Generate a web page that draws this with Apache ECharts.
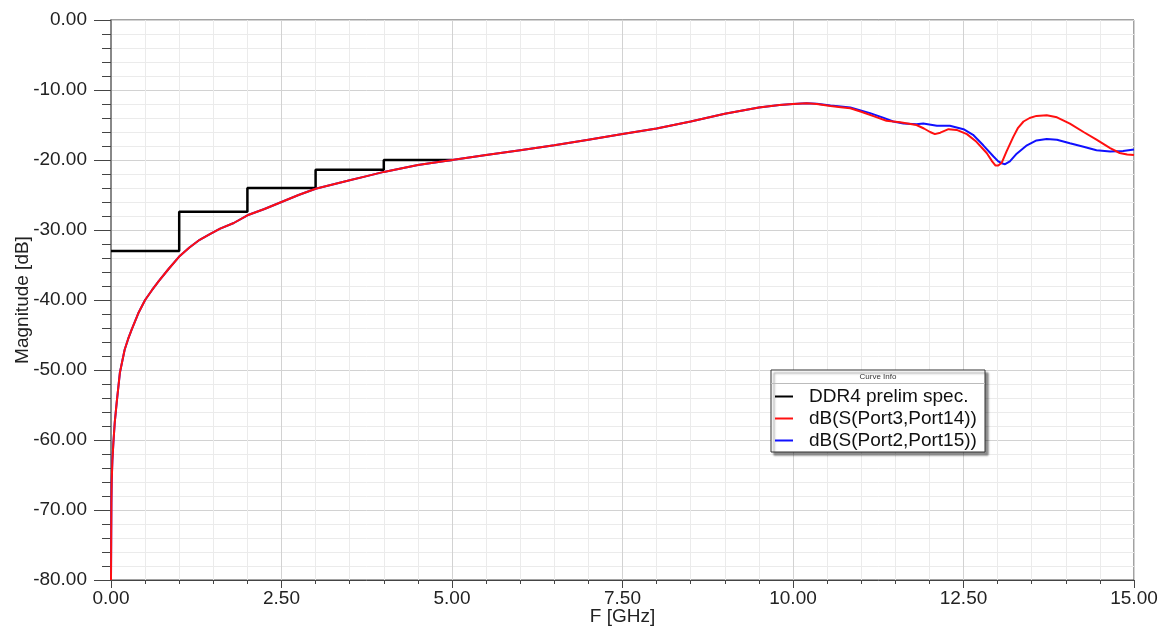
<!DOCTYPE html>
<html>
<head>
<meta charset="utf-8">
<script src="https://cdn.jsdelivr.net/npm/echarts@6/dist/echarts.min.js"></script>
<style>html,body{margin:0;padding:0;background:#fff}#c{width:1160px;height:628px}</style>
</head>
<body>
<div id="c"></div>
<script>
// DDR4 spec mask (GHz, dB)
var specFreq = [0, 1, 1, 2, 2, 3, 3, 4, 4, 5];
var specVal  = [-33, -33, -27.4, -27.4, -24, -24, -21.4, -21.4, -20, -20];

// dB(S(Port3,Port14))
var redFreq = [0, 0.003, 0.006, 0.01, 0.02, 0.035, 0.055, 0.083, 0.13, 0.2, 0.25, 0.3, 0.4, 0.5, 0.6, 0.7, 0.85, 1.0, 1.15, 1.3, 1.45, 1.6, 1.8, 2.0, 2.25, 2.5, 2.75, 3.0, 3.25, 3.5, 3.75, 4.0, 4.25, 4.5, 4.75, 5.0, 5.5, 6.0, 6.5, 7.0, 7.5, 8.0, 8.5, 9.0, 9.5, 9.8, 10.0, 10.2, 10.35, 10.55, 10.7, 10.84, 11.0, 11.2, 11.37, 11.57, 11.81, 11.92, 12.01, 12.08, 12.16, 12.28, 12.4, 12.55, 12.69, 12.84, 12.92, 12.97, 13.01, 13.06, 13.13, 13.23, 13.3, 13.38, 13.47, 13.57, 13.72, 13.87, 14.06, 14.26, 14.45, 14.65, 14.79, 14.9, 15.0];
var redVal  = [-80, -74, -69, -66, -63, -60.4, -57.5, -54.7, -50.4, -47.1, -45.6, -44.3, -41.9, -40, -38.6, -37.3, -35.5, -33.8, -32.5, -31.4, -30.6, -29.8, -29.0, -27.9, -27.0, -26.0, -25.0, -24.1, -23.5, -22.9, -22.3, -21.7, -21.2, -20.7, -20.35, -20.0, -19.3, -18.6, -17.9, -17.1, -16.3, -15.5, -14.5, -13.4, -12.5, -12.15, -12.0, -11.9, -12.0, -12.3, -12.45, -12.6, -13.1, -13.8, -14.4, -14.6, -15.0, -15.5, -16.0, -16.3, -16.1, -15.6, -15.7, -16.3, -17.4, -19.0, -20.2, -20.8, -20.8, -20.4, -18.8, -16.7, -15.4, -14.5, -14.0, -13.7, -13.6, -13.9, -14.8, -16.0, -17.1, -18.3, -19.0, -19.2, -19.3];

// dB(S(Port2,Port15))
var blueFreq = [0, 0.003, 0.006, 0.01, 0.02, 0.035, 0.055, 0.083, 0.13, 0.2, 0.25, 0.3, 0.4, 0.5, 0.6, 0.7, 0.85, 1.0, 1.15, 1.3, 1.45, 1.6, 1.8, 2.0, 2.25, 2.5, 2.75, 3.0, 3.25, 3.5, 3.75, 4.0, 4.25, 4.5, 4.75, 5.0, 5.5, 6.0, 6.5, 7.0, 7.5, 8.0, 8.5, 9.0, 9.5, 9.8, 10.0, 10.2, 10.35, 10.55, 10.7, 10.84, 11.13, 11.32, 11.47, 11.62, 11.81, 11.91, 12.11, 12.3, 12.5, 12.64, 12.79, 12.94, 13.01, 13.07, 13.11, 13.18, 13.28, 13.43, 13.57, 13.72, 13.87, 14.06, 14.26, 14.45, 14.65, 14.84, 15.0];
var blueVal  = [-80, -74, -69, -66, -63, -60.4, -57.5, -54.7, -50.4, -47.1, -45.6, -44.3, -41.9, -40, -38.6, -37.3, -35.5, -33.8, -32.5, -31.4, -30.6, -29.8, -29.0, -27.9, -27.0, -26.0, -25.0, -24.1, -23.5, -22.9, -22.3, -21.7, -21.2, -20.7, -20.35, -20.0, -19.3, -18.6, -17.9, -17.1, -16.3, -15.5, -14.5, -13.4, -12.5, -12.15, -12.0, -11.9, -11.95, -12.2, -12.35, -12.5, -13.3, -13.95, -14.5, -14.8, -14.9, -14.8, -15.1, -15.1, -15.6, -16.4, -17.9, -19.5, -20.2, -20.5, -20.6, -20.2, -19.1, -17.9, -17.2, -17.0, -17.1, -17.6, -18.1, -18.6, -18.8, -18.7, -18.5];

var names = ['DDR4 prelim spec.', 'dB(S(Port3,Port14))', 'dB(S(Port2,Port15))'];

function zip(a, b) { return a.map(function (v, i) { return [v, b[i]]; }); }

var chart = echarts.init(document.getElementById('c'));
var FONT = '"Liberation Sans", Arial, sans-serif';
chart.setOption({
  animation: false,
  textStyle: { fontFamily: FONT },
  grid: { left: 111, top: 20, right: 26, bottom: 48, containLabel: false, outerBoundsMode: 'none',
          show: true, borderColor: '#444', borderWidth: 1, backgroundColor: 'transparent' },
  xAxis: {
    type: 'value', min: 0, max: 15, interval: 2.5,
    name: 'F [GHz]', nameLocation: 'middle', nameGap: 27, nameMoveOverlap: false,
    nameTextStyle: { fontSize: 19, color: '#222', fontFamily: FONT },
    axisLine: { show: true, onZero: false, lineStyle: { color: '#444', width: 1 } },
    axisTick: { show: true, length: 8, lineStyle: { color: '#444' } },
    minorTick: { show: true, splitNumber: 5, length: 4, lineStyle: { color: '#444' } },
    axisLabel: { fontSize: 19, color: '#222', margin: 9, fontFamily: FONT, formatter: function (v) { return v.toFixed(2); } },
    splitLine: { show: true, lineStyle: { color: '#d2d2d2', width: 1 } },
    minorSplitLine: { show: true, lineStyle: { color: '#ebebeb', width: 1 } }
  },
  yAxis: {
    type: 'value', min: -80, max: 0, interval: 10,
    name: 'Magnitude [dB]', nameLocation: 'middle', nameGap: 79, nameMoveOverlap: false,
    nameTextStyle: { fontSize: 19, color: '#222', fontFamily: FONT },
    axisLine: { show: true, onZero: false, lineStyle: { color: '#888', width: 2 } },
    axisTick: { show: true, length: 17, lineStyle: { color: '#444' } },
    minorTick: { show: true, splitNumber: 5, length: 9, lineStyle: { color: '#444' } },
    axisLabel: { fontSize: 19, color: '#222', margin: 24, fontFamily: FONT, formatter: function (v) { return v.toFixed(2); } },
    splitLine: { show: true, lineStyle: { color: '#d2d2d2', width: 1 } },
    minorSplitLine: { show: true, lineStyle: { color: '#ebebeb', width: 1 } }
  },
  legend: {
    data: names, z: 60,
    orient: 'vertical', left: 775, top: 387, padding: 0,
    icon: 'rect', itemWidth: 18, itemHeight: 2, itemGap: 3,
    textStyle: { fontSize: 19, color: '#111', fontFamily: FONT, padding: [0, 0, 0, 11] },
    selectedMode: false
  },
  graphic: [
    { type: 'rect', z: 50, shape: { x: 771, y: 370, width: 214, height: 82 },
      style: { fill: '#fff', stroke: '#333', lineWidth: 1, shadowBlur: 2, shadowOffsetX: 3, shadowOffsetY: 3, shadowColor: 'rgba(0,0,0,0.45)' } },
    { type: 'line', z: 51, shape: { x1: 771, y1: 383.5, x2: 985, y2: 383.5 }, style: { stroke: '#bbb', lineWidth: 1 } },
    { type: 'text', z: 51, style: { x: 878, y: 377, text: 'Curve Info', fontSize: 8, fontFamily: FONT, fill: '#333', align: 'center', verticalAlign: 'middle' } }
  ],
  series: [
    { name: names[0], type: 'line', data: zip(specFreq, specVal), showSymbol: false, symbol: 'none',
      lineStyle: { color: '#000', width: 2.5 }, itemStyle: { color: '#000' }, z: 3 },
    { name: names[2], type: 'line', data: zip(blueFreq, blueVal), showSymbol: false, symbol: 'none',
      lineStyle: { color: '#1010ff', width: 2 }, itemStyle: { color: '#1010ff' }, z: 4 },
    { name: names[1], type: 'line', data: zip(redFreq, redVal), showSymbol: false, symbol: 'none',
      lineStyle: { color: '#ff1010', width: 2 }, itemStyle: { color: '#ff1010' }, z: 5 }
  ]
});
</script>
</body>
</html>
